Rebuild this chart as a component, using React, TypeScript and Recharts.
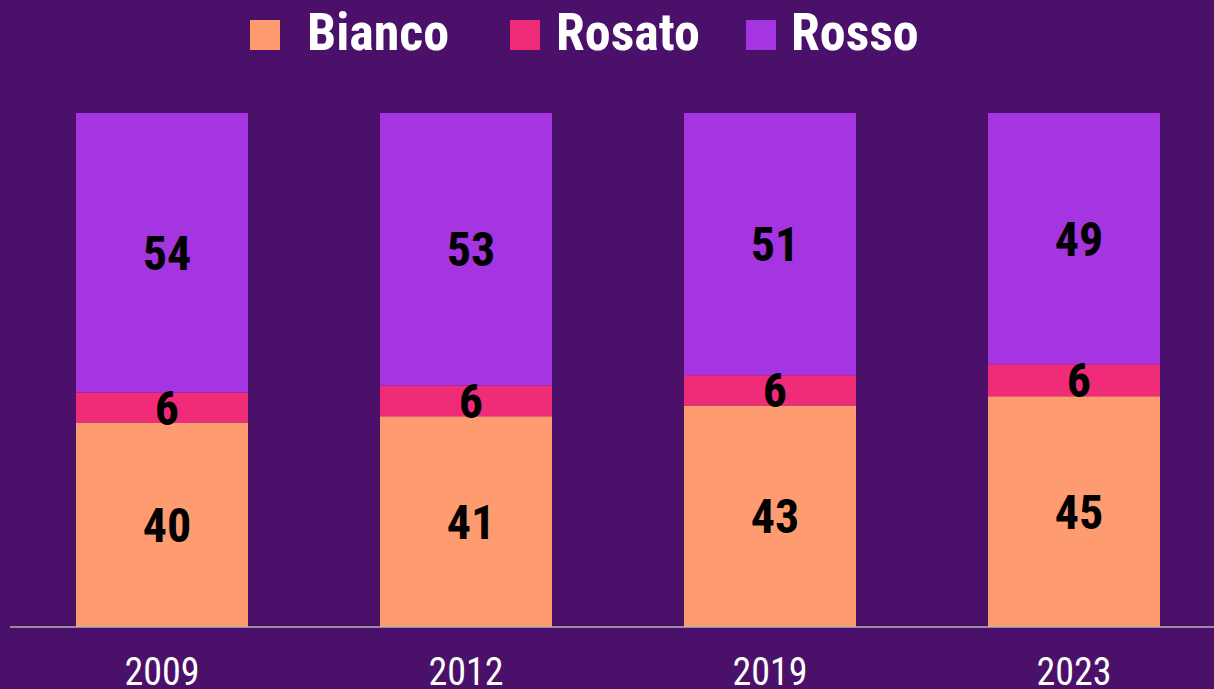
import { BarChart, Bar, XAxis, YAxis, LabelList } from 'recharts';

const years = ['2009', '2012', '2019', '2023'];
const bianco = [39.8, 41.0, 43.1, 44.9];
const rosato = [5.8, 6.0, 5.9, 6.2];
const rosso = [54.4, 53.0, 51.0, 48.9];

const series = [
  { key: 'bianco', name: 'Bianco', color: '#FF9B70' },
  { key: 'rosato', name: 'Rosato', color: '#F02B78' },
  { key: 'rosso', name: 'Rosso', color: '#A534E1' },
];

const data = years.map((year, i) => ({
  year,
  bianco: bianco[i],
  rosato: rosato[i],
  rosso: rosso[i],
}));

// legend layout (left edge of each swatch, gap swatch -> text)
const legendLeft = [250, 510, 746];
const legendGap = [27, 16, 15];

const FONT = 'Roboto, sans-serif';

export default function App(): React.JSX.Element {
  return (
    <div
      style={{
        position: 'fixed',
        left: 0,
        top: 0,
        width: 1214,
        height: 689,
        overflow: 'hidden',
        background: '#4B1069',
        fontFamily: FONT,
        fontStretch: '75%',
      }}
    >
      {series.map((s, i) => (
        <div
          key={s.key}
          style={{
            position: 'absolute',
            top: 5,
            left: legendLeft[i],
            display: 'flex',
            alignItems: 'baseline',
            height: 56,
            lineHeight: '56px',
          }}
        >
          <span style={{ width: 30, height: 30, background: s.color, display: 'inline-block' }} />
          <span
            style={{
              color: '#fff',
              fontWeight: 700,
              fontSize: 52,
              marginLeft: legendGap[i],
            }}
          >
            {s.name}
          </span>
        </div>
      ))}
      <BarChart
        width={1226}
        height={689}
        data={data}
        margin={{ top: 113, right: 0, left: 10, bottom: 0 }}
        style={{ fontStretch: '75%' }}
      >
        <XAxis
          dataKey="year"
          height={62}
          axisLine={{ stroke: '#b4b4b4', strokeWidth: 1.5 }}
          tickLine={false}
          tickSize={0}
          tickMargin={31}
          tick={{ fill: '#ffffff', fontSize: 38, fontFamily: FONT }}
          interval={0}
        />
        <YAxis hide domain={[0, 100]} allowDataOverflow />
        {series.map((s) => (
          <Bar
            key={s.key}
            dataKey={s.key}
            name={s.name}
            stackId="a"
            fill={s.color}
            barSize={172}
            isAnimationActive={false}
          >
            <LabelList
              dataKey={s.key}
              position="center"
              fill="#000000"
              fontSize={48}
              fontWeight={700}
              fontFamily={FONT}
              dx={5}
              formatter={(v: number) => Math.round(v)}
            />
          </Bar>
        ))}
      </BarChart>
    </div>
  );
}
